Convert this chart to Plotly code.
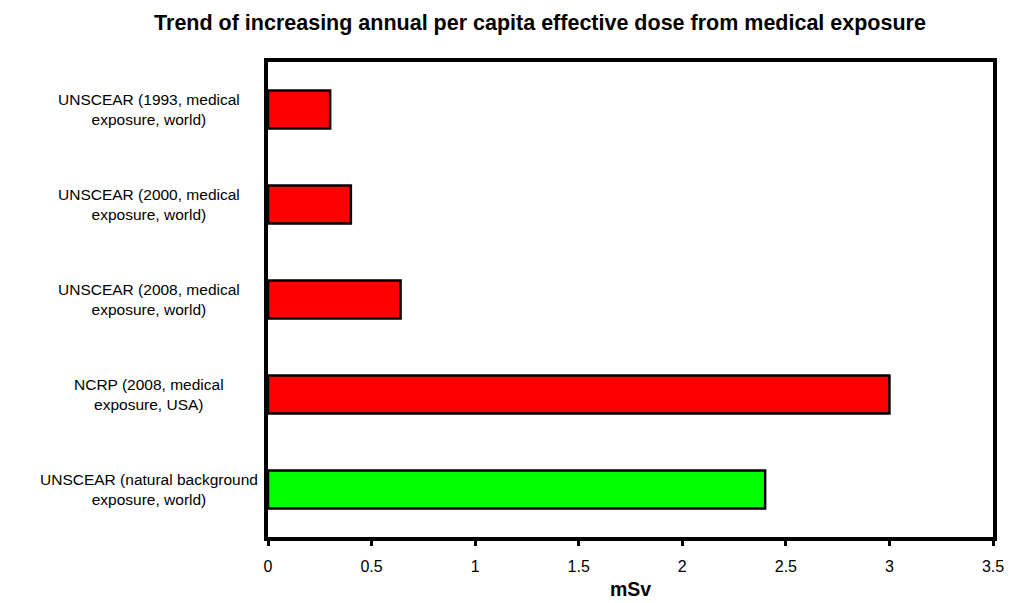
import plotly.graph_objects as go

categories = [
    "UNSCEAR (1993, medical<br>exposure, world)",
    "UNSCEAR (2000, medical<br>exposure, world)",
    "UNSCEAR (2008, medical<br>exposure, world)",
    "NCRP (2008, medical<br>exposure, USA)",
    "UNSCEAR (natural background<br>exposure, world)",
]
values = [0.30, 0.40, 0.64, 3.00, 2.40]
colors = ["#FF0000", "#FF0000", "#FF0000", "#FF0000", "#00FF00"]
x_ticks = [0, 0.5, 1, 1.5, 2, 2.5, 3, 3.5]
x_title = "mSv"

FONT = "Arial, Liberation Sans, sans-serif"

# page body has an 8px margin; size the figure so it fits the 1014x603 window
W, H = 1006, 595
PLOT_H = 475

fig = go.Figure(
    go.Bar(
        x=values,
        y=categories,
        orientation="h",
        marker=dict(color=colors, line=dict(color="black", width=2.5)),
        width=0.4,
    )
)

annotations = [
    dict(
        text=c,
        xref="paper",
        yref="y",
        x=-0.1644,
        y=c,
        xanchor="center",
        yanchor="middle",
        align="center",
        showarrow=False,
        font=dict(family=FONT, size=15.5, color="black"),
    )
    for c in categories
]
annotations.append(
    dict(
        text=f"<b>{x_title}</b>",
        xref="paper",
        yref="paper",
        x=0.5,
        y=-52 / PLOT_H,
        xanchor="center",
        yanchor="middle",
        showarrow=False,
        font=dict(family=FONT, size=19.5, color="black"),
    )
)

fig.update_layout(
    width=W,
    height=H,
    paper_bgcolor="white",
    plot_bgcolor="white",
    margin=dict(l=260, r=10, t=54, b=H - 54 - PLOT_H),
    showlegend=False,
    title=dict(
        text="<b>Trend of increasing annual per capita effective dose from medical exposure</b>",
        x=(540 - 8) / W,
        xref="container",
        xanchor="center",
        y=1 - (22 - 8) / H,
        yref="container",
        yanchor="middle",
        font=dict(family=FONT, size=21.5, color="black"),
    ),
    xaxis=dict(
        range=[0, 3.5],
        tickvals=x_ticks,
        ticktext=[f"{v:g}" for v in x_ticks],
        showgrid=False,
        zeroline=False,
        showline=True,
        linecolor="black",
        linewidth=4,
        mirror=True,
        ticks="outside",
        ticklen=5,
        tickwidth=3,
        tickcolor="black",
        ticklabelstandoff=7,
        tickfont=dict(family=FONT, size=16, color="black"),
    ),
    yaxis=dict(
        categoryorder="array",
        categoryarray=categories,
        autorange="reversed",
        showgrid=False,
        zeroline=False,
        showline=True,
        linecolor="black",
        linewidth=4,
        mirror=True,
        ticks="",
        showticklabels=False,
    ),
    annotations=annotations,
)

fig.write_html("out.html")
